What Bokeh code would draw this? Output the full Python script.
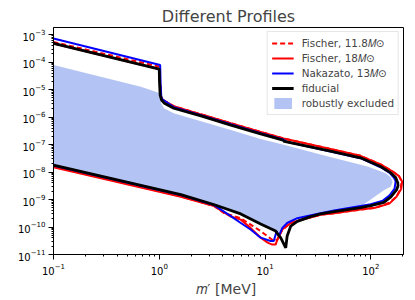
from bokeh.plotting import figure
from bokeh.models import FixedTicker, Legend, LegendItem, Label, Range1d
from bokeh.embed import file_html
from bokeh.resources import INLINE

# ---------------- data ----------------
x_major_ticks = [0.1, 1, 10, 100]
y_major_ticks = [1e-11, 1e-10, 1e-9, 1e-8, 1e-7, 1e-6, 1e-5, 1e-4, 1e-3]

# fiducial (black) contour: upper branch left->nose, then lower branch nose->left
fiducial_m = [0.1, 1.0, 1.005, 1.02, 1.05, 1.12, 1.37, 2.48, 4.75, 9.1, 14.8, 15.2, 41.6, 80, 124, 155, 172, 180, 181,
              176, 155, 133, 100, 80, 45, 33.5, 27, 20.2, 17.5, 16.2, 15.7, 14.1, 12.6, 9.1, 5.9, 3.27, 1.6, 1.0, 0.1]
fiducial_eps = [4.8e-4, 5.6e-5, 2.0e-5, 6.3e-6, 4.2e-6, 3.2e-6, 2.1e-6, 1.1e-6, 5.1e-7, 2.45e-7, 1.45e-7, 1.3e-7, 5.8e-8,
                3.3e-8, 1.6e-8, 9.3e-9, 6.3e-9, 4.1e-9, 3.2e-9,
                2.3e-9, 1.26e-9, 7.9e-10, 6.0e-10, 5.1e-10, 3.6e-10, 3.0e-10, 2.4e-10, 1.6e-10, 1.07e-10, 4.7e-11,
                1.75e-11, 4.0e-11, 7.1e-11, 1.3e-10, 3.0e-10, 6.6e-10, 1.5e-9, 2.3e-9, 1.8e-8]

# Nakazato 13 Msun (blue)
nakazato_m = [0.1, 1.02, 1.03, 1.045, 1.07, 1.37, 2.48, 4.75, 9.1, 14.8, 16, 41.6, 80, 124, 150, 165, 172,
              168, 150, 130, 100, 80, 45, 33.5, 20.2, 16.2, 14.6, 13.5, 12.9, 12.1, 11.3, 9.1, 7.3, 5.9, 4.75, 3.3,
              1.6, 1.0, 0.1]
nakazato_eps = [7.2e-4, 7.8e-5, 1.6e-5, 5.6e-6, 4.4e-6, 2.3e-6, 1.17e-6, 5.5e-7, 2.6e-7, 1.55e-7, 1.26e-7, 5.6e-8,
                3.2e-8, 1.5e-8, 9.5e-9, 6.3e-9, 4.7e-9,
                2.5e-9, 1.4e-9, 9.1e-10, 6.8e-10, 5.8e-10, 4.0e-10, 3.2e-10, 2.1e-10, 1.4e-10, 9.3e-11, 4.7e-11,
                7.1e-11, 3.1e-11, 3.1e-11, 4.1e-11, 8.1e-11, 1.4e-10, 2.5e-10, 6.3e-10, 1.45e-9, 2.2e-9, 1.74e-8]

# Fischer 18 Msun (red solid)
fischer18_m = [0.1, 1.0, 1.02, 1.04, 1.08, 1.37, 2.48, 4.75, 9.1, 15, 41.6, 80, 124, 160, 185, 198,
               194, 175, 150, 110, 80, 45, 33.5, 21.7, 17.5, 14.6, 13.1, 12.6, 11.7, 10.6, 9.1, 7.3, 5.9, 4.75,
               3.3, 1.6, 1.0, 0.1]
fischer18_eps = [4.8e-4, 5.6e-5, 1.6e-5, 5.6e-6, 4.2e-6, 2.5e-6, 1.26e-6, 6.0e-7, 2.9e-7, 1.66e-7, 6.9e-8, 3.9e-8,
                 1.9e-8, 1.07e-8, 7.1e-9, 4.5e-9,
                 2.4e-9, 1.26e-9, 7.1e-10, 5.0e-10, 4.3e-10, 3.2e-10, 2.8e-10, 1.8e-10, 1.4e-10, 8.1e-11, 3.5e-11,
                 2.3e-11, 2.3e-11, 2.7e-11, 4.1e-11, 9.3e-11, 1.86e-10, 2.4e-10, 5.8e-10, 1.26e-9, 1.9e-9, 1.5e-8]

# Fischer 11.8 Msun (red dashed)
fischer118_m = [0.1, 1.01, 1.02, 1.04, 1.08, 1.37, 2.48, 4.75, 9.1, 15, 41.6, 80, 124, 160, 185, 196,
                192, 175, 150, 110, 80, 45, 33.5, 21.7, 17.5, 14.6, 13.1, 12.1, 9.1, 5.9, 4.1, 3.3, 1.6, 1.0, 0.1]
fischer118_eps = [5.4e-4, 6.8e-5, 1.6e-5, 5.6e-6, 4.2e-6, 2.5e-6, 1.26e-6, 6.0e-7, 2.9e-7, 1.66e-7, 6.9e-8, 3.9e-8,
                  1.9e-8, 1.07e-8, 7.1e-9, 4.6e-9,
                  2.5e-9, 1.26e-9, 7.6e-10, 5.0e-10, 4.3e-10, 3.2e-10, 2.8e-10, 1.8e-10, 1.4e-10, 8.1e-11, 3.5e-11,
                  3.1e-11, 7.1e-11, 2.1e-10, 3.2e-10, 5.8e-10, 1.3e-9, 2.0e-9, 1.6e-8]

# robustly excluded region (shaded)
excluded_m = [0.1, 0.67, 1.0, 1.04, 1.11, 1.37, 2.48, 4.75, 9.1, 15, 38, 95, 140, 155, 161,
              155, 133, 100, 80, 45, 33.5, 20.2, 16.2, 15.1, 14.1, 12.6, 9.1, 5.9, 3.27, 1.0, 0.1]
excluded_eps = [7.8e-5, 1.26e-5, 7.6e-6, 3.2e-6, 2.1e-6, 1.38e-6, 7.1e-7, 3.4e-7, 1.6e-7, 9.8e-8, 3.8e-8, 1.55e-8,
                8.9e-9, 6.3e-9, 4.4e-9,
                3.0e-9, 2.2e-9, 1.0e-9, 5.6e-10, 4.0e-10, 3.2e-10, 2.1e-10, 1.4e-10, 1.07e-10, 6.3e-11, 7.1e-11,
                1.3e-10, 3.0e-10, 6.6e-10, 2.3e-9, 1.8e-8]

labels = ["Fischer, 11.8\U0001D440\u2299", "Fischer, 18\U0001D440\u2299", "Nakazato, 13\U0001D440\u2299",
          "fiducial", "robustly excluded"]

# ---------------- figure ----------------
p = figure(width=414, height=299, x_axis_type="log", y_axis_type="log",
           x_range=Range1d(0.1, 204), y_range=Range1d(1e-11, 1.82e-3),
           output_backend="svg", toolbar_location=None,
           min_border_left=53, min_border_right=11, min_border_top=27, min_border_bottom=44)

p.title.text = "Different Profiles"
p.title.align = "center"
p.title.text_font = "DejaVu Sans"
p.title.text_font_size = "16px"
p.title.text_font_style = "normal"
p.title.standoff = 4

p.grid.visible = False
p.outline_line_color = "black"
p.outline_line_alpha = 1
p.outline_line_width = 1
p.background_fill_color = "white"
p.border_fill_color = "white"

def minor_list(decades):
    out = []
    for d in decades:
        for k in range(2, 10):
            out.append(k * d)
    return out

p.xaxis.ticker = FixedTicker(ticks=x_major_ticks, minor_ticks=minor_list([0.1, 1, 10, 100]))
p.yaxis.ticker = FixedTicker(ticks=y_major_ticks, minor_ticks=minor_list(y_major_ticks))

for ax in (p.xaxis, p.yaxis):
    ax.axis_line_color = "black"
    ax.major_tick_line_color = "black"
    ax.minor_tick_line_color = "black"
    ax.major_tick_in = 0
    ax.major_tick_out = 5
    ax.minor_tick_in = 0
    ax.minor_tick_out = 2
    ax.major_label_text_font = "DejaVu Sans"
    ax.major_label_text_font_size = "10px"
    ax.major_label_text_color = "black"
    ax.major_label_standoff = 3

p.xaxis.axis_label = "\U0001D45A\u2032  [MeV]"
p.xaxis.axis_label_text_font = "DejaVu Sans"
p.xaxis.axis_label_text_font_size = "14px"
p.xaxis.axis_label_text_font_style = "normal"
p.xaxis.axis_label_standoff = 3

eps_label = Label(x=-41, y=123, x_units="screen", y_units="screen", text="\u03b5",
                  text_font="DejaVu Sans", text_font_style="italic", text_font_size="16px",
                  text_align="center", text_baseline="middle")
p.add_layout(eps_label)

shade = p.patch(excluded_m, excluded_eps, fill_color="#b3c3f3", line_color=None)
l118 = p.line(fischer118_m, fischer118_eps, line_color="#ff0000", line_width=2, line_dash="5 3")
l18 = p.line(fischer18_m, fischer18_eps, line_color="#ff0000", line_width=2)
lnak = p.line(nakazato_m, nakazato_eps, line_color="#0000ff", line_width=2)
lfid = p.line(fiducial_m, fiducial_eps, line_color="black", line_width=2.8)

legend = Legend(items=[LegendItem(label=labels[0], renderers=[l118]),
                       LegendItem(label=labels[1], renderers=[l18]),
                       LegendItem(label=labels[2], renderers=[lnak]),
                       LegendItem(label=labels[3], renderers=[lfid]),
                       LegendItem(label=labels[4], renderers=[shade])],
                location="top_right", margin=4, padding=4, spacing=1,
                glyph_width=22, glyph_height=14, label_height=14, label_standoff=8,
                label_text_font="DejaVu Sans", label_text_font_size="10.4px",
                border_line_color="#cccccc", border_line_width=1,
                background_fill_alpha=0.8)
p.add_layout(legend)

open("out.html", "w").write(file_html(p, INLINE))
